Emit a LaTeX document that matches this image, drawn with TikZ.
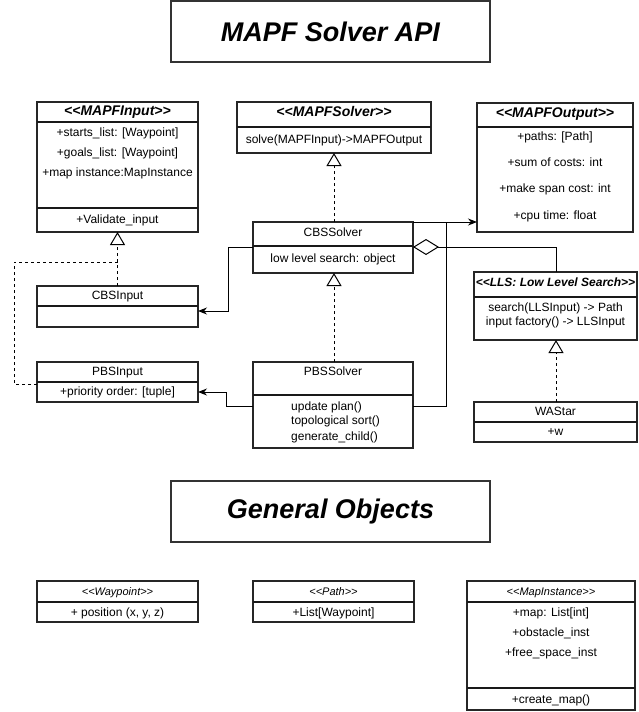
\documentclass[tikz,border=0pt]{standalone}
\usepackage{fontspec}
\setmainfont{Liberation Sans}[Ligatures=TeXOff]
\usetikzlibrary{arrows.meta}
\tikzset{
  umlbox/.style={draw=black!85, line width=1.5pt, rectangle, anchor=north west, inner sep=0pt, outer sep=0pt},
  sepline/.style={draw=black!90, line width=1.5pt},
  txt/.style={font=\fontsize{12}{14}\selectfont, inner sep=0pt, text height=9pt, text depth=3pt},
  hdr/.style={font=\fontsize{14}{16}\selectfont\bfseries\itshape, inner sep=0pt, text height=10pt, text depth=3pt},
  smallhdr/.style={font=\fontsize{11}{13}\selectfont\itshape, inner sep=0pt, text height=8pt, text depth=2pt},
  conn/.style={draw=black, line width=1pt},
  realiz/.style={conn, dash pattern=on 3pt off 3pt, -{Triangle[open,length=13pt,width=15pt,fill=white]}},
  dashconn/.style={conn, dash pattern=on 3pt off 3pt},
  assoc/.style={conn, -{Stealth[length=9pt,width=7pt]}},
  titlebox/.style={draw=black!80, line width=1.2pt, rectangle, anchor=north west, inner sep=0pt, outer sep=0pt},
  titletxt/.style={font=\fontsize{27}{32}\selectfont\bfseries\itshape, inner sep=0pt}
}
\begin{document}
\begin{tikzpicture}[x=1pt,y=-1pt]
\useasboundingbox[fill=white] (0,0) rectangle (639,712);

% titles
\node[titlebox, minimum width=319pt, minimum height=61pt] (title1) at (171,1) {};
\node[titletxt] (title1t) at (title1.center) {MAPF Solver API};
\node[titlebox, minimum width=319pt, minimum height=61pt] (title2) at (171,481) {};
\node[titletxt] (title2t) at (title2.center) {General Objects};

% MAPFInput
\node[umlbox, minimum width=161pt, minimum height=130pt] (mapfin) at (37,102) {};
\draw[sepline] (mapfin.west |- 0,122) -- (mapfin.east |- 0,122);
\draw[sepline] (mapfin.west |- 0,208) -- (mapfin.east |- 0,208);
\node[hdr] (mapfinh) at (117.5,112) {<<MAPFInput>>};
\node[txt] (mapfina) at (117.5,133) {+starts\_list: [Waypoint]};
\node[txt] (mapfinb) at (117.5,153) {+goals\_list: [Waypoint]};
\node[txt] (mapfinc) at (117.5,173) {+map instance:MapInstance};
\node[txt] (mapfind) at (117.5,220) {+Validate\_input};

% MAPFSolver
\node[umlbox, minimum width=194pt, minimum height=51pt] (mapfsol) at (237,102) {};
\draw[sepline] (mapfsol.west |- 0,127) -- (mapfsol.east |- 0,127);
\node[hdr] (mapfsolh) at (334,113) {<<MAPFSolver>>};
\node[txt] (mapfsola) at (334,140) {solve(MAPFInput)->MAPFOutput};

% MAPFOutput
\node[umlbox, minimum width=156pt, minimum height=129pt] (mapfout) at (477,103) {};
\draw[sepline] (mapfout.west |- 0,127) -- (mapfout.east |- 0,127);
\node[hdr] (mapfouth) at (555,114) {<<MAPFOutput>>};
\node[txt] (mapfouta) at (555,137) {+paths: [Path]};
\node[txt] (mapfoutb) at (555,163) {+sum of costs: int};
\node[txt] (mapfoutc) at (555,189) {+make span cost: int};
\node[txt] (mapfoutd) at (555,216) {+cpu time: float};

% CBSSolver
\node[umlbox, minimum width=160pt, minimum height=51pt] (cbs) at (253,222) {};
\draw[sepline] (cbs.west |- 0,246) -- (cbs.east |- 0,246);
\node[txt] (cbsh) at (333,233) {CBSSolver};
\node[txt] (cbsa) at (333,259) {low level search: object};

% PBSSolver
\node[umlbox, minimum width=160pt, minimum height=86pt] (pbs) at (253,362) {};
\draw[sepline] (pbs.west |- 0,395) -- (pbs.east |- 0,395);
\node[txt] (pbsh) at (333,372) {PBSSolver};
\node[txt, anchor=west] (pbsa) at (291,407) {update plan()};
\node[txt, anchor=west] (pbsb) at (291,421) {topological sort()};
\node[txt, anchor=west] (pbsc) at (291,437) {generate\_child()};

% LLS
\node[umlbox, minimum width=163pt, minimum height=68pt] (lls) at (474,272) {};
\draw[sepline] (lls.west |- 0,297) -- (lls.east |- 0,297);
\node[hdr, font=\fontsize{12}{14}\selectfont\bfseries\itshape] (llsh) at (555.5,283) {<<LLS: Low Level Search>>};
\node[txt] (llsa) at (555.5,308) {search(LLSInput) -> Path};
\node[txt] (llsb) at (555.5,322) {input factory() -> LLSInput};

% WAStar
\node[umlbox, minimum width=163pt, minimum height=40pt] (wastar) at (474,402) {};
\draw[sepline] (wastar.west |- 0,422) -- (wastar.east |- 0,422);
\node[txt] (wastarh) at (555.5,412) {WAStar};
\node[txt] (wastara) at (555.5,432) {+w};

% CBSInput
\node[umlbox, minimum width=161pt, minimum height=41pt] (cbsin) at (37,286) {};
\draw[sepline] (cbsin.west |- 0,306) -- (cbsin.east |- 0,306);
\node[txt] (cbsinh) at (117.5,296) {CBSInput};

% PBSInput
\node[umlbox, minimum width=161pt, minimum height=40pt] (pbsin) at (37,362) {};
\draw[sepline] (pbsin.west |- 0,382) -- (pbsin.east |- 0,382);
\node[txt] (pbsinh) at (117.5,372) {PBSInput};
\node[txt] (pbsina) at (117.5,392) {+priority order: [tuple]};

% General objects
\node[umlbox, minimum width=161pt, minimum height=41pt] (wp) at (37,581) {};
\draw[sepline] (wp.west |- 0,602) -- (wp.east |- 0,602);
\node[smallhdr] (wph) at (117.5,592) {<<Waypoint>>};
\node[txt] (wpa) at (117.5,613) {+ position (x, y, z)};

\node[umlbox, minimum width=161pt, minimum height=41pt] (path) at (253,581) {};
\draw[sepline] (path.west |- 0,602) -- (path.east |- 0,602);
\node[smallhdr] (pathh) at (333.5,592) {<<Path>>};
\node[txt] (patha) at (333.5,613) {+List[Waypoint]};

\node[umlbox, minimum width=168pt, minimum height=129pt] (mapinst) at (467,581) {};
\draw[sepline] (mapinst.west |- 0,602) -- (mapinst.east |- 0,602);
\draw[sepline] (mapinst.west |- 0,688) -- (mapinst.east |- 0,688);
\node[smallhdr] (mapinsth) at (551,592) {<<MapInstance>>};
\node[txt] (mapinsta) at (551,613) {+map: List[int]};
\node[txt] (mapinstb) at (551,633) {+obstacle\_inst};
\node[txt] (mapinstc) at (551,653) {+free\_space\_inst};
\node[txt] (mapinstd) at (551,700) {+create\_map()};

% connectors
\draw[realiz] (cbsin.north) -- (mapfin.south);
\draw[dashconn] (pbsin.west |- 0,384) -- (14,384) -- (14,262) -- (cbsin.north |- 0,262);
\draw[realiz] (cbs.north -| 334,0) -- (mapfsol.south -| 334,0);
\draw[realiz] (pbs.north -| 334,0) -- (cbs.south -| 334,0);
\draw[realiz] (wastar.north -| 556,0) -- (lls.south -| 556,0);

\draw[assoc] (cbs.west |- 0,247) -- (228,247) -- (228,311) -- (cbsin.east |- 0,311);
\draw[assoc] (pbs.west |- 0,406) -- (226,406) -- (226,392) -- (pbsin.east |- 0,392);
\draw[assoc] (cbs.north east) -- (mapfout.west |- cbs.north east);
\draw[conn] (pbs.east |- 0,406) -- (446,406) -- (446,222);
\draw[conn, -{Diamond[open,length=26pt,width=16pt,fill=white]}] (lls.north -| 556,0) -- (556,247) -- (cbs.east |- 0,247);
\end{tikzpicture}
\end{document}
